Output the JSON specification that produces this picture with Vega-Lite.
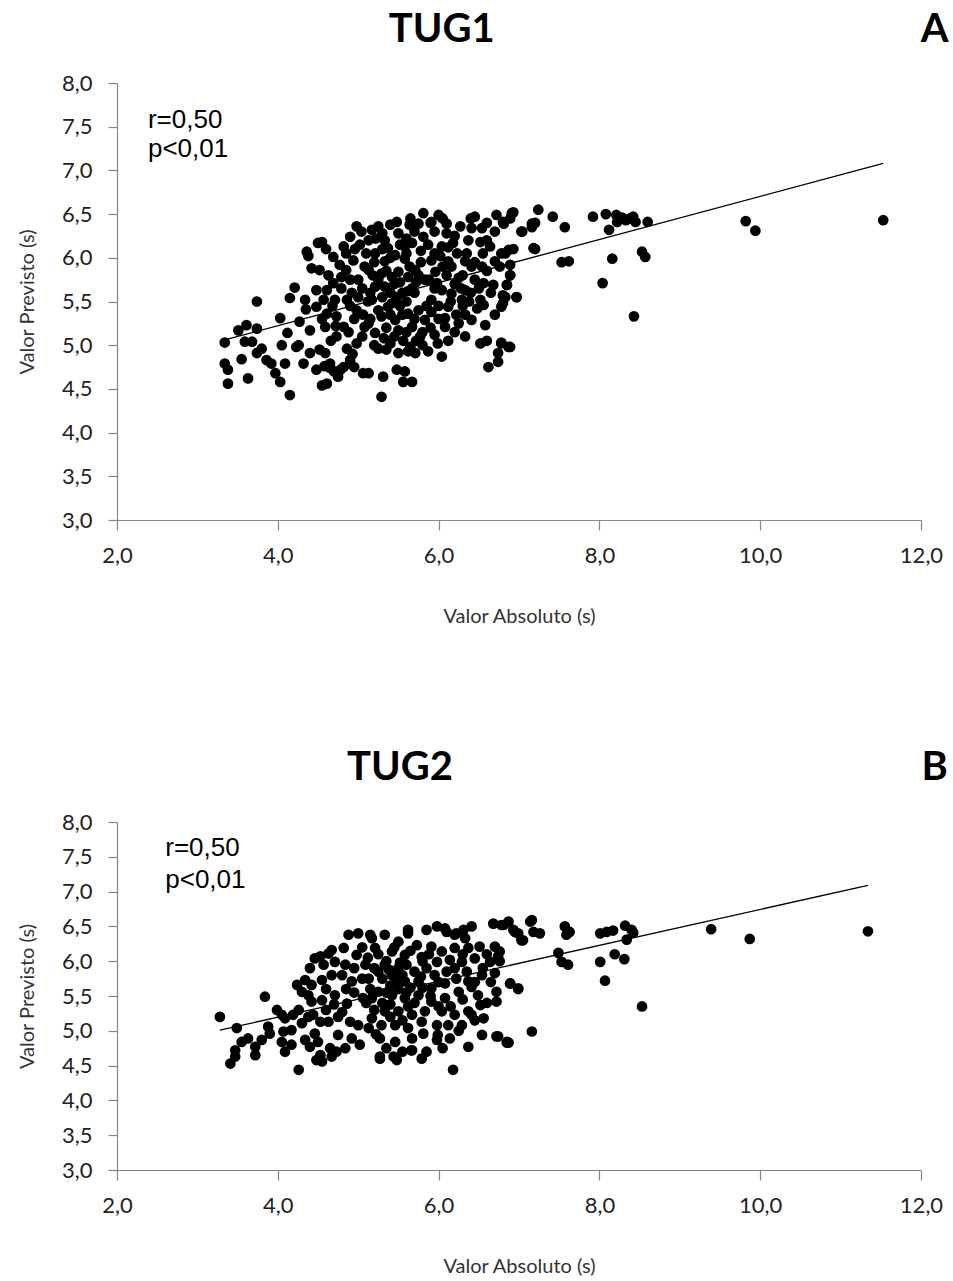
{
"$schema": "https://vega.github.io/schema/vega-lite/v6.json",
"background": "white",
"padding": {"top": 10, "left": 17, "right": 5, "bottom": 5},
"spacing": 121,
"config": {
 "view": {"stroke": null},
 "axis": {"grid": false, "domainColor": "#868686", "tickColor": "#868686", "domainWidth": 1.2, "tickWidth": 1.2, "labelFont": "Lato", "labelFontSize": 22, "labelColor": "#222222", "titleFont": "Lato", "titleFontSize": 20, "titleFontWeight": "normal", "titleColor": "#333333", "labelFlush": false, "labelOverlap": false, "tickCount": 20},
 "axisX": {"tickSize": 10, "labelPadding": 15, "titlePadding": 40},
 "axisY": {"tickSize": 9, "labelPadding": 16, "titlePadding": 24}
},
"datasets": {
 "one": [{}],
 "lineA": [{"x": 3.34, "y": 5.06}, {"x": 11.53, "y": 7.08}],
 "lineB": [{"x": 3.28, "y": 5.01}, {"x": 11.34, "y": 7.09}],
 "ptsA": [
{"x":3.34,"y":5.03},{"x":3.34,"y":4.79},{"x":3.38,"y":4.72},{"x":3.38,"y":4.56},{"x":3.51,"y":5.17},{"x":3.61,"y":5.23},{"x":3.74,"y":5.19},{"x":3.74,"y":5.5},{"x":3.55,"y":4.84},{"x":3.59,"y":5.04},{"x":3.68,"y":5.04},{"x":3.63,"y":4.62},{"x":3.74,"y":4.91},{"x":3.8,"y":4.96},{"x":3.86,"y":4.83},{"x":3.92,"y":4.79},{"x":3.97,"y":4.68},{"x":4.03,"y":4.58},{"x":4.03,"y":5.31},{"x":4.05,"y":5.0},{"x":4.12,"y":5.14},{"x":4.09,"y":4.79},{"x":4.15,"y":4.43},{"x":4.15,"y":5.54},{"x":4.21,"y":5.66},{"x":4.23,"y":4.98},{"x":4.27,"y":5.27},{"x":4.26,"y":5.0},{"x":4.32,"y":4.79},{"x":4.34,"y":5.52},{"x":4.35,"y":5.41},{"x":4.36,"y":6.07},{"x":4.42,"y":5.88},{"x":4.4,"y":5.17},{"x":4.4,"y":4.91},{"x":4.48,"y":5.63},{"x":4.5,"y":6.17},{"x":4.55,"y":6.18},{"x":4.48,"y":5.44},{"x":4.48,"y":4.72},{"x":4.55,"y":4.54},{"x":4.59,"y":4.91},{"x":4.61,"y":4.56},{"x":4.65,"y":4.79},{"x":4.63,"y":5.8},{"x":4.69,"y":6.01},{"x":4.61,"y":5.63},{"x":4.59,"y":5.21},{"x":4.61,"y":5.36},{"x":4.73,"y":5.33},{"x":4.73,"y":5.1},{"x":4.75,"y":4.64},{"x":4.82,"y":6.13},{"x":4.9,"y":6.24},{"x":4.79,"y":5.78},{"x":4.79,"y":5.65},{"x":4.86,"y":5.52},{"x":4.82,"y":5.21},{"x":4.86,"y":4.96},{"x":4.82,"y":4.75},{"x":4.9,"y":4.83},{"x":4.98,"y":6.36},{"x":5.04,"y":6.3},{"x":4.94,"y":5.97},{"x":5.0,"y":5.75},{"x":4.98,"y":5.4},{"x":4.98,"y":5.02},{"x":5.06,"y":4.68},{"x":5.08,"y":5.21},{"x":5.08,"y":5.9},{"x":4.69,"y":5.71},{"x":4.71,"y":5.52},{"x":4.52,"y":5.86},{"x":4.57,"y":5.52},
{"x":4.38,"y":6.02},{"x":4.65,"y":4.74},{"x":4.7,"y":4.7},{"x":4.78,"y":4.72},{"x":4.58,"y":4.76},{"x":4.68,"y":5.45},{"x":4.77,"y":5.92},{"x":4.85,"y":5.86},{"x":4.92,"y":5.6},{"x":4.95,"y":5.3},{"x":4.88,"y":5.15},{"x":4.93,"y":4.9},{"x":4.72,"y":5.22},{"x":4.66,"y":5.05},{"x":4.52,"y":4.95},{"x":4.55,"y":5.3},{"x":4.85,"y":6.05},{"x":5.02,"y":6.15},{"x":5.0,"y":5.55},{"x":5.05,"y":5.1},{"x":4.95,"y":4.75},{"x":4.6,"y":6.1},
{"x":5.81,"y":6.51},{"x":6.0,"y":6.49},{"x":5.91,"y":6.41},{"x":6.1,"y":6.39},{"x":5.48,"y":6.41},{"x":5.64,"y":6.38},{"x":5.75,"y":6.39},{"x":6.45,"y":6.47},{"x":6.72,"y":6.49},{"x":6.91,"y":6.51},{"x":6.81,"y":6.39},{"x":6.27,"y":6.36},{"x":6.41,"y":6.34},{"x":6.54,"y":6.34},{"x":7.16,"y":6.39},{"x":7.03,"y":6.3},{"x":7.18,"y":6.11},{"x":6.87,"y":6.09},{"x":6.78,"y":6.05},{"x":6.7,"y":5.96},{"x":6.89,"y":5.8},{"x":6.85,"y":5.69},{"x":6.97,"y":5.55},{"x":6.83,"y":5.55},{"x":6.78,"y":5.44},{"x":6.68,"y":5.69},{"x":6.56,"y":5.71},{"x":6.52,"y":5.52},{"x":6.56,"y":5.46},{"x":6.58,"y":5.23},{"x":6.52,"y":5.02},{"x":6.78,"y":5.02},{"x":6.87,"y":4.98},{"x":6.74,"y":4.91},{"x":6.74,"y":4.81},{"x":6.62,"y":4.75},{"x":6.33,"y":5.1},{"x":6.2,"y":5.15},{"x":6.08,"y":5.21},{"x":6.04,"y":4.87},{"x":5.87,"y":4.93},{"x":5.71,"y":4.91},{"x":5.62,"y":4.93},{"x":5.5,"y":4.91},{"x":5.48,"y":4.72},{"x":5.58,"y":4.7},{"x":5.67,"y":4.58},{"x":5.56,"y":4.58},{"x":5.31,"y":4.64},{"x":5.13,"y":4.68},{"x":5.29,"y":4.41},{"x":5.77,"y":5.1},{"x":5.99,"y":5.02},{"x":6.33,"y":5.35},{"x":6.29,"y":5.52},{"x":6.12,"y":5.44},{"x":5.96,"y":5.84},{"x":5.98,"y":5.71},{"x":5.83,"y":5.75},{"x":5.62,"y":5.36},{"x":5.67,"y":5.21},{"x":5.83,"y":5.29},{"x":5.4,"y":5.02},{"x":5.25,"y":4.96},{"x":5.21,"y":5.14},{"x":5.37,"y":5.44},{"x":5.48,"y":5.55},{"x":5.5,"y":6.28},{"x":5.33,"y":6.2},{"x":5.17,"y":6.32},{"x":5.25,"y":6.36},{"x":5.67,"y":6.17},{"x":5.81,"y":6.24},{"x":6.04,"y":6.13},{"x":6.18,"y":6.17},{"x":6.23,"y":6.05},{"x":6.37,"y":6.2},{"x":6.52,"y":6.18},{"x":6.64,"y":6.13},{"x":6.33,"y":5.96},{"x":6.41,"y":5.9},{"x":6.16,"y":5.9},{"x":6.54,"y":5.9},{"x":5.58,"y":5.99},{"x":5.46,"y":6.03},{"x":5.33,"y":5.96},{"x":5.21,"y":6.05},{"x":5.29,"y":5.82},{"x":5.5,"y":5.84},{"x":5.71,"y":5.86},{"x":5.67,"y":5.65},{"x":5.21,"y":5.67},{"x":5.33,"y":5.67},{"x":5.17,"y":5.52},{"x":5.29,"y":5.33},{"x":5.13,"y":5.25},{"x":5.46,"y":5.29},{"x":5.5,"y":5.17},{"x":5.91,"y":5.52},{"x":6.04,"y":5.63},{"x":6.16,"y":5.59},{"x":5.91,"y":5.38},{"x":6.08,"y":5.31},{"x":6.25,"y":5.25},{"x":6.41,"y":5.29},{"x":6.33,"y":5.63},{"x":6.45,"y":5.75},{"x":6.25,"y":5.77},{"x":6.12,"y":5.96},{"x":5.91,"y":5.97},{"x":5.87,"y":6.15},{"x":5.58,"y":6.13},{"x":5.37,"y":6.11},{"x":5.13,"y":6.2},{"x":5.13,"y":5.86},
{"x":5.15,"y":5.6},{"x":5.25,"y":5.75},{"x":5.35,"y":5.85},{"x":5.4,"y":5.6},{"x":5.45,"y":5.7},{"x":5.55,"y":5.6},{"x":5.6,"y":5.5},{"x":5.7,"y":5.6},{"x":5.75,"y":5.4},{"x":5.85,"y":5.45},{"x":5.4,"y":6.0},{"x":5.52,"y":6.15},{"x":5.3,"y":6.1},{"x":5.2,"y":5.95},{"x":5.25,"y":5.4},{"x":5.35,"y":5.2},{"x":5.4,"y":5.35},{"x":5.55,"y":5.35},{"x":5.45,"y":5.1},{"x":5.6,"y":5.15},{"x":5.7,"y":5.3},{"x":5.8,"y":5.15},{"x":5.9,"y":5.2},{"x":5.95,"y":5.65},{"x":6.0,"y":5.45},{"x":6.05,"y":5.9},{"x":6.1,"y":5.8},{"x":6.2,"y":5.7},{"x":6.3,"y":5.8},{"x":6.4,"y":5.6},{"x":6.5,"y":5.65},{"x":6.6,"y":5.85},{"x":6.45,"y":5.95},{"x":6.35,"y":6.05},{"x":6.2,"y":6.25},{"x":6.1,"y":6.28},{"x":5.95,"y":6.3},{"x":5.7,"y":6.3},{"x":5.6,"y":6.05},{"x":5.75,"y":5.8},{"x":5.88,"y":5.75},{"x":5.95,"y":6.05},{"x":6.15,"y":5.5},{"x":6.22,"y":5.35},{"x":6.0,"y":5.3},{"x":5.8,"y":5.0},{"x":5.65,"y":4.98},{"x":5.35,"y":4.95},{"x":5.2,"y":5.0},{"x":5.15,"y":5.3},{"x":5.12,"y":5.5},{"x":5.18,"y":5.8},{"x":5.3,"y":5.55},{"x":6.55,"y":6.05},{"x":6.65,"y":5.6},{"x":6.7,"y":5.35},{"x":6.48,"y":5.42},{"x":6.6,"y":5.05},{"x":6.3,"y":5.45},{"x":6.4,"y":6.45},{"x":6.05,"y":6.45},{"x":5.65,"y":6.45},{"x":5.4,"y":6.38},{"x":5.9,"y":6.4},{"x":6.6,"y":6.4},{"x":6.7,"y":6.3},{"x":6.6,"y":6.2},
{"x":5.05,"y":5.65},{"x":5.1,"y":6.05},{"x":5.22,"y":6.22},{"x":5.42,"y":5.78},{"x":5.52,"y":5.72},{"x":5.62,"y":5.78},{"x":5.72,"y":5.72},{"x":5.78,"y":5.95},{"x":5.64,"y":5.9},{"x":5.42,"y":5.48},{"x":5.52,"y":5.45},{"x":5.62,"y":5.62},{"x":5.32,"y":5.08},{"x":5.56,"y":5.05},{"x":5.72,"y":5.05},{"x":5.95,"y":5.12},{"x":6.12,"y":5.05},{"x":5.06,"y":5.35},{"x":4.9,"y":5.45},{"x":4.9,"y":5.75},{"x":4.96,"y":6.1},{"x":5.3,"y":6.28},{"x":5.6,"y":6.22},{"x":5.78,"y":6.08},{"x":6.02,"y":6.02},{"x":6.12,"y":6.12},{"x":6.28,"y":5.65},{"x":6.38,"y":5.5},
{"x":6.93,"y":6.52},{"x":6.8,"y":6.41},{"x":6.89,"y":6.45},{"x":7.24,"y":6.55},{"x":7.2,"y":6.4},{"x":7.16,"y":6.35},{"x":7.04,"y":6.3},{"x":7.42,"y":6.47},{"x":7.57,"y":6.35},{"x":7.92,"y":6.47},{"x":8.08,"y":6.5},{"x":8.21,"y":6.49},{"x":8.22,"y":6.41},{"x":8.33,"y":6.43},{"x":8.42,"y":6.47},{"x":8.45,"y":6.41},{"x":8.6,"y":6.41},{"x":8.38,"y":6.45},{"x":8.28,"y":6.46},{"x":8.12,"y":6.32},{"x":7.2,"y":6.1},{"x":6.93,"y":6.1},{"x":6.83,"y":6.05},{"x":7.53,"y":5.95},{"x":7.62,"y":5.96},{"x":8.16,"y":5.99},{"x":8.53,"y":6.07},{"x":8.57,"y":6.01},{"x":8.04,"y":5.71},{"x":8.43,"y":5.33},{"x":9.82,"y":6.42},{"x":9.94,"y":6.31},{"x":11.53,"y":6.43},{"x":6.89,"y":5.92},{"x":6.76,"y":5.9},{"x":6.89,"y":5.8},{"x":6.85,"y":5.69},{"x":6.8,"y":5.57},{"x":6.97,"y":5.55},{"x":6.8,"y":5.48},{"x":6.78,"y":5.03},{"x":6.89,"y":4.98}
 ],
 "ptsB": [
{"x":3.28,"y":5.2},{"x":3.49,"y":5.04},{"x":3.84,"y":5.49},{"x":3.55,"y":4.84},{"x":3.63,"y":4.89},{"x":3.41,"y":4.53},{"x":3.47,"y":4.63},{"x":3.47,"y":4.72},{"x":3.72,"y":4.77},{"x":3.72,"y":4.65},{"x":3.8,"y":4.87},{"x":3.88,"y":5.06},{"x":3.9,"y":4.96},{"x":3.99,"y":5.3},{"x":4.05,"y":5.23},{"x":4.09,"y":5.18},{"x":4.07,"y":4.99},{"x":4.17,"y":5.01},{"x":4.05,"y":4.84},{"x":4.09,"y":4.7},{"x":4.17,"y":4.8},{"x":4.19,"y":5.23},{"x":4.26,"y":5.3},{"x":4.3,"y":5.11},{"x":4.38,"y":5.2},{"x":4.44,"y":5.23},{"x":4.53,"y":5.13},{"x":4.63,"y":5.13},{"x":4.46,"y":4.96},{"x":4.34,"y":4.87},{"x":4.4,"y":4.77},{"x":4.5,"y":4.84},{"x":4.53,"y":4.65},{"x":4.48,"y":4.58},{"x":4.55,"y":4.56},{"x":4.65,"y":4.75},{"x":4.67,"y":4.63},{"x":4.75,"y":4.94},{"x":4.73,"y":4.7},{"x":4.26,"y":4.44},{"x":4.24,"y":5.66},{"x":4.34,"y":5.73},{"x":4.3,"y":5.56},{"x":4.38,"y":5.51},{"x":4.42,"y":5.66},{"x":4.4,"y":5.9},{"x":4.46,"y":6.04},{"x":4.53,"y":6.07},{"x":4.57,"y":5.95},{"x":4.63,"y":6.11},{"x":4.67,"y":6.16},{"x":4.71,"y":5.99},{"x":4.67,"y":5.8},{"x":4.55,"y":5.73},{"x":4.55,"y":5.44},{"x":4.42,"y":5.42},{"x":4.71,"y":5.51},{"x":4.8,"y":5.8},{"x":4.82,"y":6.19},{"x":4.84,"y":5.95},{"x":4.88,"y":6.38},{"x":5.0,"y":6.4},{"x":4.98,"y":6.09},{"x":4.92,"y":5.71},{"x":4.86,"y":5.39},{"x":4.8,"y":5.27},{"x":4.9,"y":5.13},{"x":4.92,"y":4.89},{"x":4.84,"y":4.75},{"x":5.0,"y":5.08},{"x":5.02,"y":4.8},{"x":5.09,"y":5.95},{"x":5.06,"y":5.47},
{"x":5.85,"y":6.45},{"x":5.98,"y":6.5},{"x":6.1,"y":6.42},{"x":6.2,"y":6.38},{"x":6.31,"y":6.45},{"x":6.41,"y":6.5},{"x":6.33,"y":6.33},{"x":6.68,"y":6.54},{"x":6.78,"y":6.52},{"x":6.87,"y":6.57},{"x":6.95,"y":6.42},{"x":7.03,"y":6.3},{"x":7.14,"y":6.57},{"x":7.18,"y":6.42},{"x":5.33,"y":6.38},{"x":5.17,"y":6.33},{"x":5.62,"y":6.4},{"x":5.5,"y":6.28},{"x":5.73,"y":6.23},{"x":5.91,"y":6.21},{"x":6.04,"y":6.14},{"x":6.2,"y":6.19},{"x":6.37,"y":6.19},{"x":6.51,"y":6.21},{"x":6.7,"y":6.21},{"x":6.74,"y":6.07},{"x":6.64,"y":5.99},{"x":6.45,"y":6.04},{"x":6.29,"y":5.99},{"x":6.14,"y":6.02},{"x":5.98,"y":5.99},{"x":5.79,"y":6.06},{"x":5.58,"y":6.09},{"x":5.42,"y":6.14},{"x":5.21,"y":6.19},{"x":6.7,"y":5.83},{"x":6.54,"y":5.8},{"x":6.37,"y":5.71},{"x":6.22,"y":5.75},{"x":6.08,"y":5.68},{"x":5.91,"y":5.61},{"x":5.75,"y":5.71},{"x":5.58,"y":5.71},{"x":5.42,"y":5.8},{"x":5.25,"y":5.85},{"x":5.13,"y":5.75},{"x":5.5,"y":5.9},{"x":5.33,"y":5.95},{"x":6.89,"y":5.68},{"x":6.99,"y":5.61},{"x":6.72,"y":5.56},{"x":6.72,"y":5.42},{"x":6.49,"y":5.51},{"x":6.41,"y":5.63},{"x":6.25,"y":5.56},{"x":6.08,"y":5.47},{"x":5.91,"y":5.42},{"x":5.75,"y":5.51},{"x":5.58,"y":5.47},{"x":5.42,"y":5.51},{"x":5.25,"y":5.56},{"x":5.17,"y":5.47},{"x":6.52,"y":5.37},{"x":6.37,"y":5.28},{"x":6.2,"y":5.23},{"x":6.04,"y":5.28},{"x":5.83,"y":5.28},{"x":5.67,"y":5.23},{"x":5.5,"y":5.28},{"x":5.33,"y":5.28},{"x":5.17,"y":5.18},{"x":6.56,"y":5.18},{"x":6.41,"y":5.23},{"x":6.29,"y":5.08},{"x":6.12,"y":5.08},{"x":5.98,"y":5.08},{"x":5.79,"y":5.13},{"x":5.62,"y":5.04},{"x":5.46,"y":5.08},{"x":5.29,"y":5.08},{"x":5.13,"y":5.04},{"x":6.54,"y":4.94},{"x":6.72,"y":4.92},{"x":6.85,"y":4.84},{"x":7.16,"y":4.99},{"x":6.37,"y":4.77},{"x":6.14,"y":4.89},{"x":5.99,"y":4.94},{"x":5.81,"y":4.96},{"x":5.67,"y":4.89},{"x":5.46,"y":4.84},{"x":5.27,"y":4.89},{"x":5.27,"y":4.6},{"x":5.44,"y":4.63},{"x":5.48,"y":4.58},{"x":5.67,"y":4.72},{"x":5.79,"y":4.6},{"x":5.85,"y":4.7},{"x":6.18,"y":4.44},
{"x":6.81,"y":6.52},{"x":6.93,"y":6.45},{"x":6.99,"y":6.4},{"x":7.05,"y":6.3},{"x":7.16,"y":6.59},{"x":7.26,"y":6.4},{"x":7.57,"y":6.5},{"x":7.63,"y":6.42},{"x":7.59,"y":6.38},{"x":8.01,"y":6.4},{"x":8.09,"y":6.42},{"x":8.17,"y":6.44},{"x":8.32,"y":6.51},{"x":8.4,"y":6.45},{"x":8.42,"y":6.41},{"x":8.34,"y":6.31},{"x":7.49,"y":6.12},{"x":7.53,"y":5.99},{"x":7.61,"y":5.95},{"x":8.01,"y":5.99},{"x":8.19,"y":6.1},{"x":8.31,"y":6.03},{"x":8.07,"y":5.72},{"x":8.53,"y":5.35},{"x":9.39,"y":6.46},{"x":9.87,"y":6.32},{"x":11.34,"y":6.43},{"x":6.89,"y":5.68},{"x":6.99,"y":5.6},{"x":6.85,"y":4.83},{"x":6.76,"y":6.14},{"x":6.76,"y":6.0},
{"x":5.15,"y":6.38},{"x":5.62,"y":6.45},{"x":6.08,"y":6.47},{"x":6.22,"y":6.4},{"x":5.27,"y":4.63},{"x":5.66,"y":4.72},{"x":5.98,"y":4.87},{"x":6.74,"y":4.92},{"x":6.87,"y":4.83},
{"x":5.2,"y":5.9},{"x":5.3,"y":5.75},{"x":5.4,"y":5.65},{"x":5.45,"y":5.85},{"x":5.55,"y":5.8},{"x":5.6,"y":5.95},{"x":5.7,"y":5.85},{"x":5.35,"y":6.0},{"x":5.25,"y":6.1},{"x":5.45,"y":6.2},{"x":5.65,"y":6.15},{"x":5.8,"y":6.0},{"x":5.85,"y":5.9},{"x":5.95,"y":5.8},{"x":6.0,"y":5.7},{"x":5.5,"y":5.6},{"x":5.6,"y":5.55},{"x":5.3,"y":5.4},{"x":5.2,"y":5.3},{"x":5.4,"y":5.2},{"x":5.55,"y":5.15},{"x":5.7,"y":5.4},{"x":5.9,"y":5.5},{"x":6.0,"y":5.35},{"x":6.15,"y":5.35},{"x":6.3,"y":5.45},{"x":6.45,"y":5.7},{"x":6.55,"y":5.9},{"x":6.6,"y":6.1},{"x":6.3,"y":6.1},{"x":6.1,"y":5.85},{"x":5.15,"y":5.6},{"x":5.1,"y":5.4},{"x":5.35,"y":4.75},{"x":5.55,"y":4.7},{"x":6.05,"y":4.75},{"x":6.25,"y":5.0},{"x":6.45,"y":5.15},{"x":6.6,"y":5.4},{"x":6.65,"y":5.7},{"x":5.05,"y":6.2},{"x":4.95,"y":5.55},{"x":4.75,"y":5.2},{"x":4.6,"y":5.3},{"x":4.6,"y":5.6},
{"x":5.05,"y":5.75},{"x":5.12,"y":6.05},{"x":5.38,"y":5.88},{"x":5.52,"y":5.98},{"x":5.65,"y":5.62},{"x":5.78,"y":5.78},{"x":5.88,"y":6.1},{"x":5.4,"y":5.38},{"x":5.62,"y":5.35},{"x":5.8,"y":5.62},{"x":5.35,"y":5.55},{"x":5.48,"y":5.72},{"x":6.2,"y":5.9},{"x":6.35,"y":5.85},{"x":4.95,"y":5.9},{"x":4.85,"y":5.6},{"x":4.7,"y":5.38},{"x":5.22,"y":4.95}
 ]
},
"vconcat": [
 {
  "width": 804, "height": 437,
  "layer": [
   {"data": {"name": "lineA"}, "mark": {"type": "line", "color": "#000000", "strokeWidth": 1.3},
    "encoding": {"x": {"field": "x", "type": "quantitative", "scale": {"domain": [2, 12]}, "axis": {"title": "Valor Absoluto (s)", "values": [2,4,6,8,10,12], "labelExpr": "replace(format(datum.value, '.1f'), '.', ',')"}},
                 "y": {"field": "y", "type": "quantitative", "scale": {"domain": [3, 8]}, "axis": {"title": "Valor Previsto (s)", "values": [3,3.5,4,4.5,5,5.5,6,6.5,7,7.5,8], "tickCount": 20, "labelExpr": "replace(format(datum.value, '.1f'), '.', ',')"}}}},
   {"data": {"name": "ptsA"}, "mark": {"type": "circle", "color": "#000000", "opacity": 1, "size": 115},
    "encoding": {"x": {"field": "x", "type": "quantitative"}, "y": {"field": "y", "type": "quantitative"}}},
   {"data": {"name": "one"}, "mark": {"type": "text", "text": "r=0,50", "align": "left", "baseline": "middle", "font": "Liberation Sans", "fontSize": 26, "color": "#000000"},
    "encoding": {"x": {"datum": 2.385, "type": "quantitative"}, "y": {"datum": 7.58, "type": "quantitative"}}},
   {"data": {"name": "one"}, "mark": {"type": "text", "text": "p<0,01", "align": "left", "baseline": "middle", "font": "Liberation Sans", "fontSize": 26, "color": "#000000"},
    "encoding": {"x": {"datum": 2.385, "type": "quantitative"}, "y": {"datum": 7.25, "type": "quantitative"}}},
   {"data": {"name": "one"}, "mark": {"type": "text", "text": "TUG1", "align": "center", "baseline": "middle", "font": "Lato", "fontWeight": "bold", "fontSize": 40, "color": "#000000"},
    "encoding": {"x": {"datum": 6.04, "type": "quantitative"}, "y": {"datum": 8.606, "type": "quantitative"}}},
   {"data": {"name": "one"}, "mark": {"type": "text", "text": "A", "align": "center", "baseline": "middle", "font": "Lato", "fontWeight": "bold", "fontSize": 40, "color": "#000000"},
    "encoding": {"x": {"datum": 12.17, "type": "quantitative"}, "y": {"datum": 8.606, "type": "quantitative"}}}
  ]
 },
 {
  "width": 804, "height": 348,
  "layer": [
   {"data": {"name": "lineB"}, "mark": {"type": "line", "color": "#000000", "strokeWidth": 1.3},
    "encoding": {"x": {"field": "x", "type": "quantitative", "scale": {"domain": [2, 12]}, "axis": {"title": "Valor Absoluto (s)", "values": [2,4,6,8,10,12], "labelExpr": "replace(format(datum.value, '.1f'), '.', ',')"}},
                 "y": {"field": "y", "type": "quantitative", "scale": {"domain": [3, 8]}, "axis": {"title": "Valor Previsto (s)", "values": [3,3.5,4,4.5,5,5.5,6,6.5,7,7.5,8], "tickCount": 20, "labelExpr": "replace(format(datum.value, '.1f'), '.', ',')"}}}},
   {"data": {"name": "ptsB"}, "mark": {"type": "circle", "color": "#000000", "opacity": 1, "size": 115},
    "encoding": {"x": {"field": "x", "type": "quantitative"}, "y": {"field": "y", "type": "quantitative"}}},
   {"data": {"name": "one"}, "mark": {"type": "text", "text": "r=0,50", "align": "left", "baseline": "middle", "font": "Liberation Sans", "fontSize": 26, "color": "#000000"},
    "encoding": {"x": {"datum": 2.6, "type": "quantitative"}, "y": {"datum": 7.626, "type": "quantitative"}}},
   {"data": {"name": "one"}, "mark": {"type": "text", "text": "p<0,01", "align": "left", "baseline": "middle", "font": "Liberation Sans", "fontSize": 26, "color": "#000000"},
    "encoding": {"x": {"datum": 2.6, "type": "quantitative"}, "y": {"datum": 7.17, "type": "quantitative"}}},
   {"data": {"name": "one"}, "mark": {"type": "text", "text": "TUG2", "align": "center", "baseline": "middle", "font": "Lato", "fontWeight": "bold", "fontSize": 40, "color": "#000000"},
    "encoding": {"x": {"datum": 5.52, "type": "quantitative"}, "y": {"datum": 8.78, "type": "quantitative"}}},
   {"data": {"name": "one"}, "mark": {"type": "text", "text": "B", "align": "center", "baseline": "middle", "font": "Lato", "fontWeight": "bold", "fontSize": 40, "color": "#000000"},
    "encoding": {"x": {"datum": 12.17, "type": "quantitative"}, "y": {"datum": 8.78, "type": "quantitative"}}}
  ]
 }
]
}
